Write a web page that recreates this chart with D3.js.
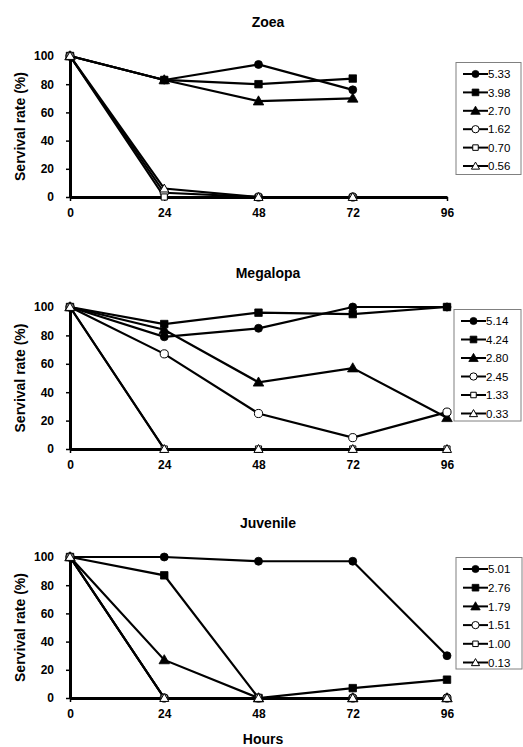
<!DOCTYPE html>
<html>
<head>
<meta charset="utf-8">
<script src="https://cdn.jsdelivr.net/npm/d3@7"></script>
<style>
  html, body { margin: 0; padding: 0; background: #fff; }
  svg { display: block; font-family: "Liberation Sans", Arial, sans-serif; }
</style>
</head>
<body>
<svg id="chart" width="523" height="747"></svg>
<script>
// Sampling times (hours) and axis ticks
const hours = [0, 24, 48, 72, 96];
const yTicks = [0, 20, 40, 60, 80, 100];

// Zoea stage: survival (%) per concentration
const zoeaLabels = ["5.33", "3.98", "2.70", "1.62", "0.70", "0.56"];
const zoeaValues = [
  [100, 83, 94, 76],
  [100, 83, 80, 84],
  [100, 83, 68, 70],
  [100, 3, 0, 0],
  [100, 0, 0, 0],
  [100, 6, 0, 0]
];

// Megalopa stage
const megalopaLabels = ["5.14", "4.24", "2.80", "2.45", "1.33", "0.33"];
const megalopaValues = [
  [100, 79, 85, 100, 100],
  [100, 88, 96, 95, 100],
  [100, 84, 47, 57, 22],
  [100, 67, 25, 8, 26],
  [100, 0, 0, 0, 0],
  [100, 0, 0, 0, 0]
];

// Juvenile stage
const juvenileLabels = ["5.01", "2.76", "1.79", "1.51", "1.00", "0.13"];
const juvenileValues = [
  [100, 100, 97, 97, 30],
  [100, 87, 0, 7, 13],
  [100, 27, 0, 0, 0],
  [100, 0, 0, 0, 0],
  [100, 0, 0, 0, 0],
  [100, 0, 0, 0, 0]
];

// Marker style for each series position: shape and filled/open
const markerShapes = [d3.symbolCircle, d3.symbolSquare, d3.symbolTriangle,
                      d3.symbolCircle, d3.symbolSquare, d3.symbolTriangle];
const markerFilled = [true, true, true, false, false, false];
const markerSizes = [50, 56, 48, 52, 38, 36];

const svg = d3.select("#chart");

const panels = [
  { title: "Zoea", labels: zoeaLabels, values: zoeaValues,
    top: 56, bottom: 197, legendX: 456, legendY: 62.5, legendW: 65, legendH: 112, legendStep: 18.4 },
  { title: "Megalopa", labels: megalopaLabels, values: megalopaValues,
    top: 307, bottom: 449, legendX: 454, legendY: 309.5, legendW: 67, legendH: 111.5, legendStep: 18.5 },
  { title: "Juvenile", labels: juvenileLabels, values: juvenileValues,
    top: 557, bottom: 698, legendX: 456, legendY: 557.5, legendW: 66, legendH: 111.5, legendStep: 18.7 }
];

const x = d3.scaleLinear().domain([0, 96]).range([70, 447]);

function drawMarker(g, i, cx, cy, scale) {
  const sym = d3.symbol().type(markerShapes[i]).size(markerSizes[i] * (scale || 1));
  const dy = markerShapes[i] === d3.symbolTriangle ? 0.8 : 0;
  g.append("path")
    .attr("d", sym())
    .attr("transform", `translate(${cx},${cy + dy})`)
    .attr("fill", markerFilled[i] ? "#000" : "#fff")
    .attr("stroke", "#000")
    .attr("stroke-width", markerFilled[i] ? 0.8 : 1);
}

panels.forEach(p => {
  const y = d3.scaleLinear().domain([0, 100]).range([p.bottom, p.top]);
  const g = svg.append("g");

  // Panel title
  g.append("text")
    .attr("x", 268).attr("y", p.top - 29)
    .attr("text-anchor", "middle")
    .attr("font-size", 14).attr("font-weight", "bold")
    .text(p.title);

  // Y axis title
  g.append("text")
    .attr("transform", `translate(25,${(p.top + p.bottom) / 2}) rotate(-90)`)
    .attr("text-anchor", "middle")
    .attr("font-size", 14).attr("font-weight", "bold")
    .text("Servival rate (%)");

  // Axes
  const yAxis = g.append("g")
    .attr("transform", "translate(70,0)")
    .call(d3.axisLeft(y).tickValues(yTicks).tickSize(4).tickSizeOuter(0).tickPadding(12));
  const xAxis = g.append("g")
    .attr("transform", `translate(0,${p.bottom})`)
    .call(d3.axisBottom(x).tickValues(hours).tickSize(4).tickSizeOuter(0).tickPadding(7));
  [yAxis, xAxis].forEach(a => {
    a.select(".domain").attr("stroke", "#000").attr("stroke-width", 3);
    a.selectAll(".tick line").attr("stroke", "#000").attr("stroke-width", 1.5);
    a.selectAll(".tick text")
      .attr("fill", "#000")
      .attr("font-size", 12).attr("font-weight", "bold")
      .attr("font-family", "Liberation Sans, Arial, sans-serif");
  });

  // Series lines and markers
  const line = d3.line().x((d, j) => x(hours[j])).y(d => y(d));
  p.values.forEach((vals, i) => {
    g.append("path")
      .attr("d", line(vals))
      .attr("fill", "none")
      .attr("stroke", "#000")
      .attr("stroke-width", 2.2);
  });
  p.values.forEach((vals, i) => {
    vals.forEach((v, j) => drawMarker(g, i, x(hours[j]), y(v)));
  });

  // Legend
  const lg = g.append("g");
  lg.append("rect")
    .attr("x", p.legendX).attr("y", p.legendY)
    .attr("width", p.legendW).attr("height", p.legendH)
    .attr("fill", "#fff").attr("stroke", "#808080").attr("stroke-width", 1);
  p.labels.forEach((lab, i) => {
    const cy = p.legendY + 11.5 + i * p.legendStep;
    const x0 = p.legendX + 7;
    lg.append("line")
      .attr("x1", x0).attr("x2", x0 + 25)
      .attr("y1", cy).attr("y2", cy)
      .attr("stroke", "#000").attr("stroke-width", 2);
    drawMarker(lg, i, x0 + 12.5, cy, 0.8);
    lg.append("text")
      .attr("x", x0 + 25).attr("y", cy)
      .attr("dy", "0.36em")
      .attr("font-size", 11.5)
      .text(lab);
  });
});

// Shared x axis title
svg.append("text")
  .attr("x", 263).attr("y", 744)
  .attr("text-anchor", "middle")
  .attr("font-size", 14).attr("font-weight", "bold")
  .text("Hours");
</script>
</body>
</html>
